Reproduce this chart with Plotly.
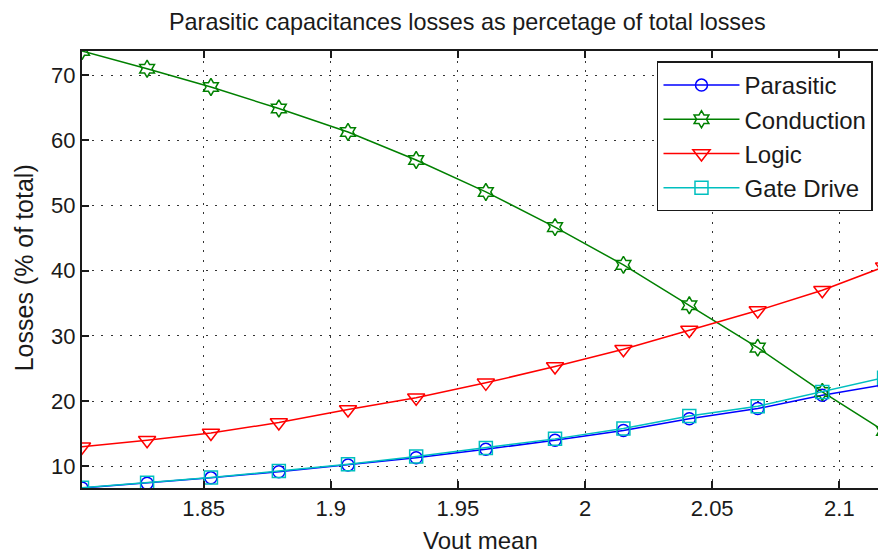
import plotly.graph_objects as go

# Mean output voltage at each operating point
vout_mean = [1.8022, 1.8278, 1.8529, 1.8796, 1.9068, 1.9336, 1.9610,
             1.9882, 2.0151, 2.0410, 2.0679, 2.0933, 2.1176]

# Loss shares, % of total losses
parasitic = [6.66, 7.40, 8.22, 9.15, 10.2, 11.3, 12.6, 14.0, 15.5, 17.3, 18.85, 20.9, 22.5]
conduction = [73.73, 71.0, 68.2, 64.9, 61.3, 57.0, 52.1, 46.7, 40.9, 34.7, 28.2, 21.4, 15.4]
logic = [13.0, 14.0, 15.1, 16.7, 18.7, 20.5, 22.8, 25.3, 27.95, 30.9, 33.9, 37.0, 40.6]
gate_drive = [6.70, 7.45, 8.28, 9.25, 10.3, 11.5, 12.8, 14.2, 15.8, 17.7, 19.2, 21.4, 23.6]

x_ticks = [1.85, 1.9, 1.95, 2.0, 2.05, 2.1]
x_tick_text = ["1.85", "1.9", "1.95", "2", "2.05", "2.1"]
y_ticks = [10, 20, 30, 40, 50, 60, 70]

x_range = [1.8022, 2.1152]
y_range = [6.66, 73.73]

FONT = "Liberation Sans, Arial, sans-serif"
INK = "#1a1a1a"

series = [
    ("Parasitic", parasitic, "#0000FF", "circle-open", 12),
    ("Conduction", conduction, "#008000", "hexagram-open", 13),
    ("Logic", logic, "#FF0000", "triangle-down-open", 15),
    ("Gate Drive", gate_drive, "#00BFBF", "square-open", 13),
]

fig = go.Figure()
for name, values, color, symbol, size in series:
    fig.add_trace(go.Scatter(
        x=vout_mean, y=values, name=name, mode="lines+markers",
        line=dict(color=color, width=1.5),
        marker=dict(symbol=symbol, size=size, color=color,
                    line=dict(color=color, width=1.5)),
    ))

axis_common = dict(
    showline=True, linecolor=INK, linewidth=2,
    ticks="inside", ticklen=7, tickwidth=1.5, tickcolor=INK,
    showgrid=True, gridcolor="#333333", gridwidth=1.2, griddash="2px,7.5px",
    zeroline=False,
    tickfont=dict(family=FONT, size=22, color=INK),
)

fig.update_layout(
    width=878, height=556,
    margin=dict(l=82, r=0, t=51, b=68),
    paper_bgcolor="white", plot_bgcolor="white",
    showlegend=True,
    xaxis=dict(range=x_range, tickvals=x_ticks, ticktext=x_tick_text,
               mirror="ticks", **axis_common),
    yaxis=dict(range=y_range, tickvals=y_ticks, mirror=False, **axis_common),
    yaxis2=dict(range=y_range, tickvals=y_ticks, overlaying="y", side="right",
                showticklabels=False, showgrid=False, showline=False,
                zeroline=False, ticks="inside", ticklen=7, tickwidth=1.5,
                tickcolor=INK),
    legend=dict(
        x=0.9937, y=0.976, xanchor="right", yanchor="top",
        bgcolor="white", bordercolor=INK, borderwidth=1.5,
        font=dict(family=FONT, size=24, color=INK),
        itemwidth=76, tracegroupgap=0,
    ),
    annotations=[
        dict(text="Parasitic capacitances losses as percetage of total losses",
             xref="paper", yref="paper", x=(467 - 82) / 796, y=1 + 29 / 437,
             xanchor="center", yanchor="middle", showarrow=False,
             font=dict(family=FONT, size=23.4, color=INK)),
        dict(text="Vout mean", xref="paper", yref="paper",
             x=(480 - 82) / 796, y=-(540 - 487.7) / 437,
             xanchor="center", yanchor="middle", showarrow=False,
             font=dict(family=FONT, size=24, color=INK)),
        dict(text="Losses (% of total)", xref="paper", yref="paper",
             x=-(82 - 24) / 796, y=1 - (268 - 50.7) / 437,
             xanchor="center", yanchor="middle", showarrow=False, textangle=-90,
             font=dict(family=FONT, size=25, color=INK)),
    ],
)

fig.write_html("out.html")
